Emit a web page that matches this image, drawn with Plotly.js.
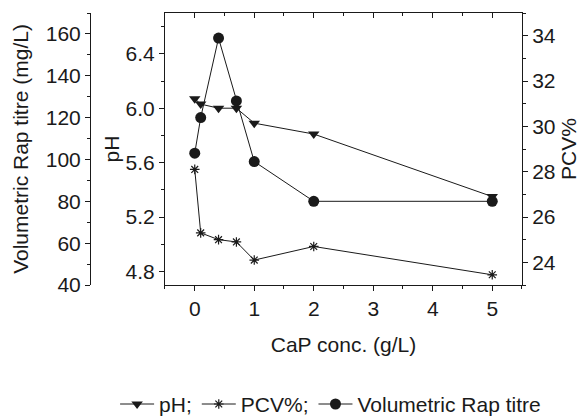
<!DOCTYPE html>
<html>
<head>
<meta charset="utf-8">
<script src="https://cdn.plot.ly/plotly-3.0.1.min.js"></script>
<style>html,body{margin:0;padding:0;background:#fff;}#chart{width:580px;height:416px;}</style>
</head>
<body>
<div id="chart"></div>
<script>
// Data
const capConc = [0, 0.1, 0.4, 0.7, 1, 2, 5];
const pHValues = [6.07, 6.03, 6.0, 6.0, 5.89, 5.81, 5.35];
const pcvValues = [28.1, 25.3, 25.0, 24.9, 24.1, 24.7, 23.45];
const titreValues = [103, 120, 158, 128, 99, 80, 80];

const seriesNames = ['pH;', 'PCV%;', 'Volumetric Rap titre'];

const ink = '#1a1a1a';
const fontFam = 'Liberation Sans, Arial, sans-serif';
const fs = 21;

const traces = [
  {
    x: capConc, y: pHValues, name: seriesNames[0], type: 'scatter', mode: 'lines+markers',
    xaxis: 'x', yaxis: 'y',
    line: {color: ink, width: 1},
    marker: {symbol: 'triangle-down', size: 10, color: ink}
  },
  {
    x: capConc, y: pcvValues, name: seriesNames[1], type: 'scatter', mode: 'lines+markers',
    xaxis: 'x', yaxis: 'y3',
    line: {color: ink, width: 1},
    marker: {symbol: 'asterisk-open', size: 8, color: ink, line: {color: ink, width: 1.2}}
  },
  {
    x: capConc, y: titreValues, name: seriesNames[2], type: 'scatter', mode: 'lines+markers',
    xaxis: 'x', yaxis: 'y2',
    line: {color: ink, width: 1},
    marker: {symbol: 'circle', size: 11, color: ink}
  },
  {
    x: [null], y: [null], xaxis: 'x2', yaxis: 'y', showlegend: false, hoverinfo: 'skip',
    type: 'scatter', mode: 'markers'
  }
];

const axisCommon = {
  showgrid: false, zeroline: false, showline: true, linecolor: ink, linewidth: 1,
  ticks: 'outside', ticklen: 5, tickwidth: 1, tickcolor: ink,
  tickfont: {family: fontFam, size: fs, color: ink}
};

const layout = {
  width: 580, height: 416,
  margin: {l: 80, r: 58, t: 13, b: 131},
  paper_bgcolor: '#fff', plot_bgcolor: '#fff',
  font: {family: fontFam, size: fs, color: ink},
  showlegend: true,
  legend: {
    orientation: 'h', xref: 'container', yref: 'container',
    x: 0.57, xanchor: 'center', y: 0.028, yanchor: 'middle',
    font: {family: fontFam, size: fs, color: ink},
    bgcolor: 'rgba(0,0,0,0)', itemwidth: 34, tracegroupgap: 0
  },
  xaxis: Object.assign({}, axisCommon, {
    domain: [0.1923, 1], anchor: 'y', range: [-0.5, 5.5],
    tick0: 0, dtick: 1, mirror: true,
    minor: {dtick: 0.5, tick0: 0, ticks: 'outside', ticklen: 3, tickcolor: ink, showgrid: false},
    title: {text: 'CaP conc. (g/L)', font: {family: fontFam, size: fs, color: ink}, standoff: 18}
  }),
  xaxis2: {
    overlaying: 'x', side: 'top', anchor: 'y', range: [-0.5, 5.5],
    showgrid: false, zeroline: false, showline: false, showticklabels: false,
    ticks: 'inside', ticklen: 5, tickwidth: 1, tickcolor: ink, tick0: 0, dtick: 1,
    minor: {dtick: 0.5, tick0: 0, ticks: 'inside', ticklen: 3, tickcolor: ink, showgrid: false}
  },
  yaxis: Object.assign({}, axisCommon, {
    anchor: 'x', side: 'left', range: [4.7, 6.7], tick0: 4.8, dtick: 0.4, tickformat: '.1f',
    minor: {dtick: 0.2, tick0: 4.8, ticks: 'outside', ticklen: 3, tickcolor: ink, showgrid: false},
    title: {text: 'pH', font: {family: fontFam, size: fs, color: ink}, standoff: 0}
  }),
  yaxis2: Object.assign({}, axisCommon, {
    overlaying: 'y', anchor: 'free', position: 0.0226, side: 'left',
    range: [40, 170], tick0: 40, dtick: 20,
    minor: {dtick: 10, tick0: 40, ticks: 'outside', ticklen: 3, tickcolor: ink, showgrid: false},
    title: {text: 'Volumetric Rap titre (mg/L)', font: {family: fontFam, size: fs, color: ink}, standoff: 10}
  }),
  yaxis3: Object.assign({}, axisCommon, {
    overlaying: 'y', anchor: 'x', side: 'right',
    range: [23, 35], tick0: 24, dtick: 2,
    minor: {dtick: 1, tick0: 24, ticks: 'outside', ticklen: 3, tickcolor: ink, showgrid: false},
    title: {text: 'PCV%', font: {family: fontFam, size: fs, color: ink}, standoff: 8}
  })
};

Plotly.newPlot('chart', traces, layout, {staticPlot: true, displayModeBar: false});
</script>
</body>
</html>
